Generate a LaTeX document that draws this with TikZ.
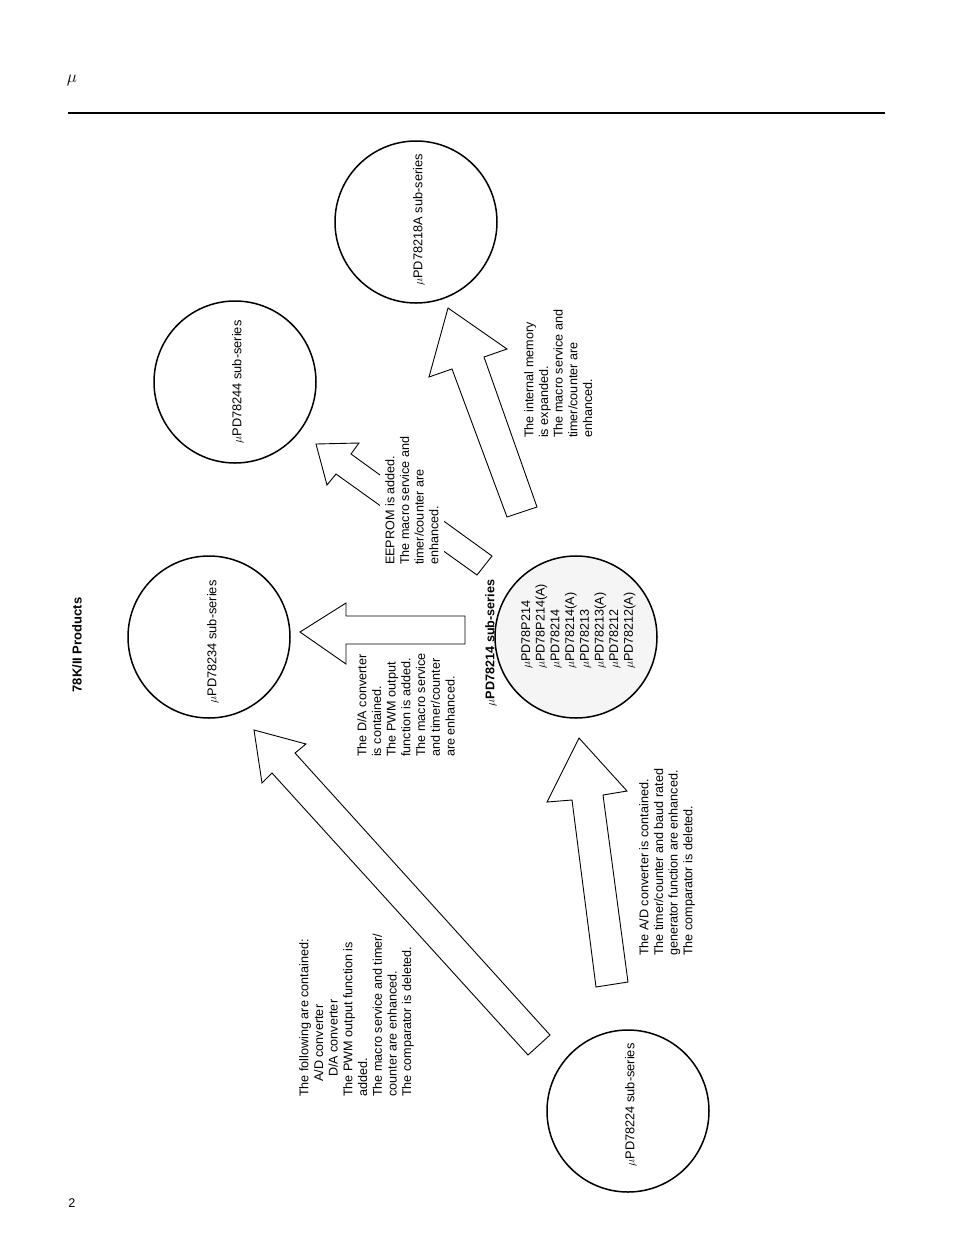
\documentclass[tikz,border=0pt]{standalone}
\usepackage{fontspec}
\setmainfont{Liberation Sans}
\usetikzlibrary{positioning}
\tikzset{%
  series/.style = {circle, draw, line width=1.5pt, minimum size=162pt, inner sep=0pt},
  sublabel/.style = {rotate=90, font=\fontsize{12.8}{14.7}\selectfont},
  note/.style = {rotate=90, align=left, inner sep=0pt, anchor=north west,
                 fill=white, font=\fontsize{12.6}{14.7}\selectfont},
  fatarrow/.style = {draw, fill=white, line width=0.9pt, line join=miter}
}

\begin{document}
\begin{tikzpicture}[x=1pt, y=-1pt]
    \useasboundingbox (0,0) rectangle (954,1235);

    \node (mu)    at (72,80)   {\fontsize{17}{18}\selectfont$\mu$};
    \draw[line width=1.5pt] (68,113) -- (885,113);
    \node (page)  at (72,1203) {\fontsize{12.6}{14}\selectfont 2};
    \node (title) [rotate=90] at (77,645)
          {\fontsize{13}{15}\selectfont\bfseries 78K/II Products};

    \node (s218a) [series] at (416,222) {};
    \node (s244)  [series] at (235,382) {};
    \node (s234)  [series] at (209,637) {};
    \node (s214)  [series, fill=black!4] at (576,637) {};
    \node (s224)  [series] at (628,1111) {};

    \node [sublabel] at (419,220)  {$\mu$PD78218A sub-series};
    \node [sublabel] at (238,382)  {$\mu$PD78244 sub-series};
    \node [sublabel] at (213,642)  {$\mu$PD78234 sub-series};
    \node [sublabel] at (631,1105) {$\mu$PD78224 sub-series};
    \node (t214) [sublabel, font=\fontsize{12.6}{14}\selectfont\bfseries] at (491,643)
          {$\mu$PD78214 sub-series};

    % arrows
    \draw[fatarrow] (465,616) -- (346,616) -- (346,603) -- (300,632)
          -- (346,664) -- (346,644) -- (465,644) -- cycle;
    \draw[fatarrow] (316,444) -- (359,443) -- (351,454) -- (492,556)
          -- (477,575) -- (336,474) -- (327,485) -- cycle;
    \draw[fatarrow] (448,308) -- (507,349) -- (484,357) -- (537,507)
          -- (507,517) -- (452,369) -- (429,377) -- cycle;
    \draw[fatarrow] (254,730) -- (306,744) -- (295,753) -- (550,1035)
          -- (528,1055) -- (272,773) -- (262,783) -- cycle;
    \draw[fatarrow] (579,738) -- (627,791) -- (603,795) -- (628,982)
          -- (596,987) -- (572,800) -- (547,802) -- cycle;

    \node (n214) [note, fill=none] at (521,669)
          {$\mu$PD78P214\\ $\mu$PD78P214(A)\\ $\mu$PD78214\\ $\mu$PD78214(A)\\
           $\mu$PD78213\\ $\mu$PD78213(A)\\ $\mu$PD78212\\ $\mu$PD78212(A)};

    \node (memo)  [note] at (524,438)
          {The internal memory\\ is expanded.\\ The macro service and\\
           timer/counter are\\ enhanced.};
    \node (eprom) [note, inner xsep=3pt, inner ysep=5pt] at (380,568)
          {EEPROM is added.\\ The macro service and\\ timer/counter are\\ enhanced.};
    \node (dac)   [note] at (357,757)
          {The D/A converter\\ is contained.\\ The PWM output\\ function is added.\\
           The macro service\\ and timer/counter\\ are enhanced.};
    \node (adc)   [note] at (639,956)
          {The A/D converter is contained.\\ The timer/counter and baud rated\\
           generator function are enhanced.\\ The comparator is deleted.};
    \node (both)  [note] at (299,1097)
          {The following are contained:\\ \hspace*{15pt}A/D converter\\
           \hspace*{20pt}D/A converter\\ The PWM output function is\\ added.\\
           The macro service and timer/\\ counter are enhanced.\\
           The comparator is deleted.};
\end{tikzpicture}
\end{document}
